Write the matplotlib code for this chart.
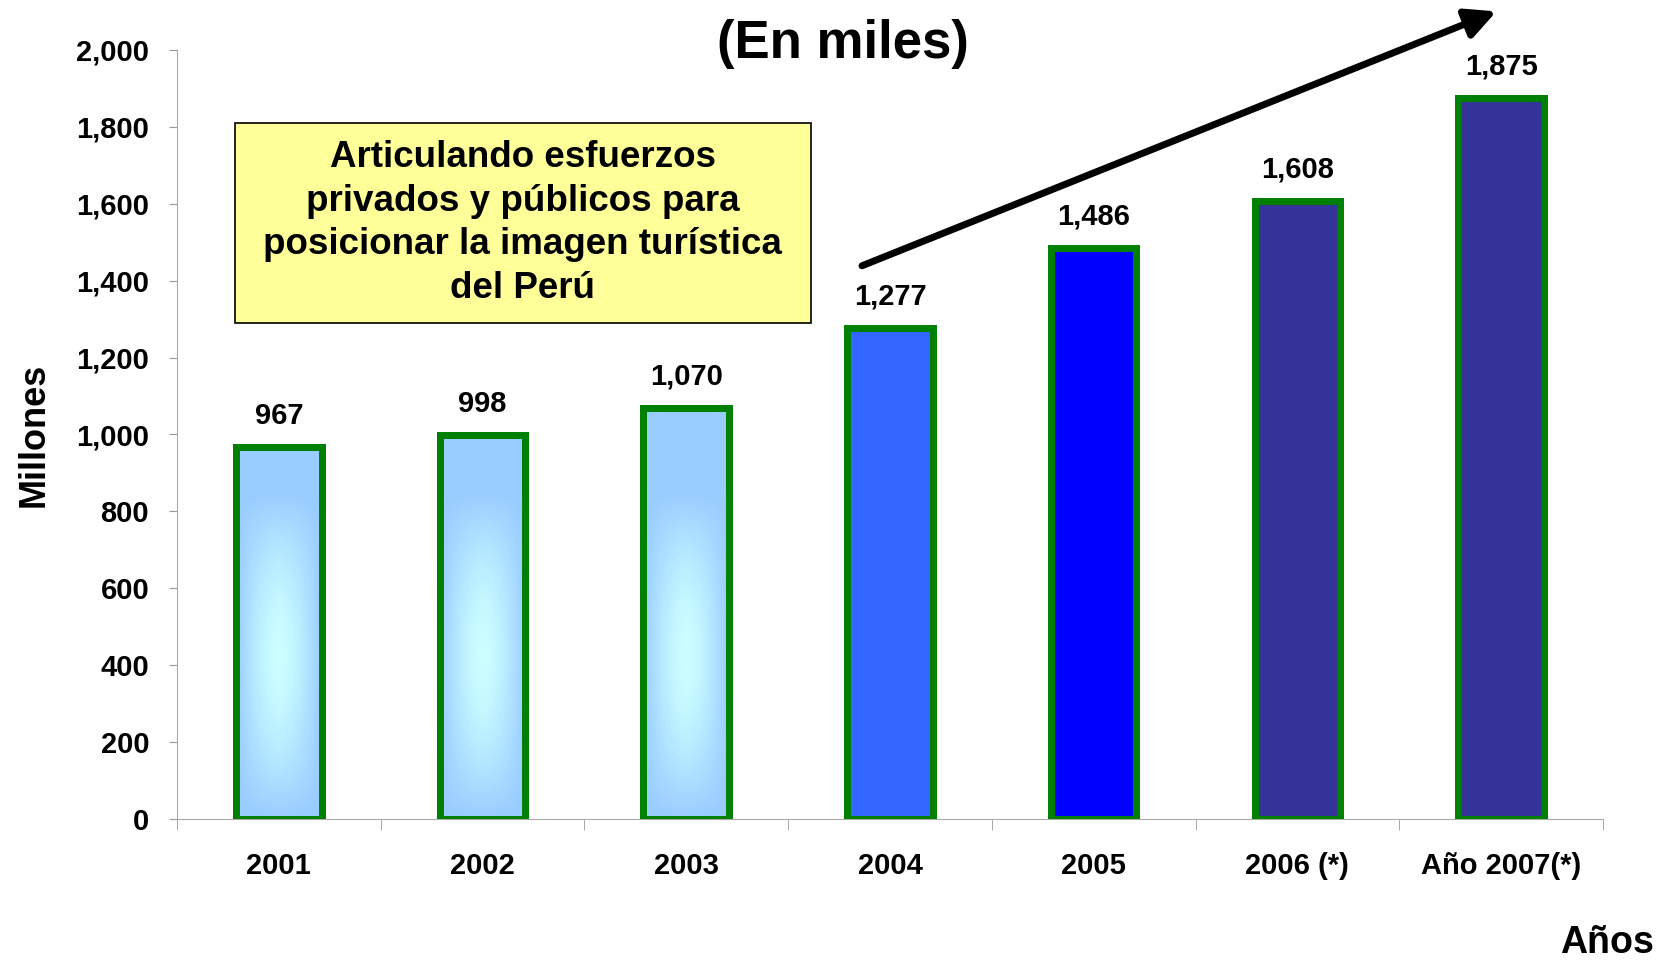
import numpy as np
import matplotlib.pyplot as plt
from matplotlib.colors import LinearSegmentedColormap
from matplotlib.patches import Rectangle

# Data
years = ["2001", "2002", "2003", "2004", "2005", "2006 (*)", "Año 2007(*)"]
values = [967, 998, 1070, 1277, 1486, 1608, 1875]
colors = ["#99CCFF", "#99CCFF", "#99CCFF", "#3366FF", "#0000FF", "#333399", "#333399"]
gradient_bar = [True, True, True, False, False, False, False]

title = "(En miles)"
box_text = "Articulando esfuerzos\nprivados y públicos para\nposicionar la imagen turística\ndel Perú"

plt.rcParams["font.family"] = ["Liberation Sans", "DejaVu Sans"]
plt.rcParams["font.weight"] = "bold"

fig = plt.figure(figsize=(16.59, 9.61), dpi=100)
ax = fig.add_axes([0.1067, 0.1478, 0.8595, 0.8002])

x = np.arange(len(years))
width = 0.42
bars = ax.bar(x, values, width=width, color=colors, edgecolor="#008000",
              linewidth=5, zorder=3)

# light-blue gradient fill for the first bars
cmap = LinearSegmentedColormap.from_list("g", ["#99CCFF", "#CCFFFF"])
u = np.linspace(-1, 1, 60)
v = np.linspace(-1, 1, 200)
U, V = np.meshgrid(u, v)
grad = (1 - np.abs(U) ** 1.6) * (1 - np.abs(V) ** 1.8)
for i, b in enumerate(bars):
    if gradient_bar[i]:
        im = ax.imshow(grad, cmap=cmap, aspect="auto", origin="lower",
                       extent=(x[i] - width / 2, x[i] + width / 2, 0, 850),
                       zorder=3.5, interpolation="bicubic")
        im.set_clip_path(b)
        ax.bar(x[i], values[i], width=width, color="none", edgecolor="#008000",
               linewidth=5, zorder=4)

for xi, val in zip(x, values):
    ax.text(xi, val + 45, f"{val:,}", ha="center", va="bottom",
            fontsize=21, fontweight="bold")

ax.set_xlim(-0.5, len(years) - 0.5)
ax.set_ylim(0, 2000)
ax.set_yticks(range(0, 2001, 200))
ax.set_yticklabels([f"{t:,}" for t in range(0, 2001, 200)], fontsize=21, fontweight="bold")
ax.set_xticks(x)
ax.set_xticklabels(years, fontsize=21, fontweight="bold")
ax.tick_params(axis="x", length=0, pad=24)
ax.set_xticks(np.arange(-0.5, len(years)), minor=True)
ax.tick_params(axis="x", which="minor", length=8, color="#999999")
ax.tick_params(axis="y", length=6, color="#999999", pad=14)

for s in ["top", "right"]:
    ax.spines[s].set_visible(False)
for s in ["left", "bottom"]:
    ax.spines[s].set_color("#aaaaaa")

ax.set_ylabel("Millones", fontsize=26, fontweight="bold", labelpad=18)

fig.text(0.508, 0.954, title, ha="center", va="center", fontsize=38, fontweight="bold")
fig.text(0.997, 0.008, "Años", ha="right", va="baseline", fontsize=27, fontweight="bold")

# yellow text box
fig.patches.append(Rectangle((0.1416, 0.6639), 0.347, 0.208, transform=fig.transFigure,
                             facecolor="#FFFF99", edgecolor="black", linewidth=1.2))
fig.text(0.3151, 0.7681, box_text, ha="center", va="center", fontsize=26.5,
         fontweight="bold", linespacing=1.32)

# trend arrow
ax.annotate("", xy=(5.99, 2103), xytext=(2.85, 1436),
            arrowprops=dict(arrowstyle="-|>,head_length=1.8,head_width=0.9",
                            color="black", lw=5),
            annotation_clip=False, zorder=5)

fig.savefig("out.png", dpi=100)
